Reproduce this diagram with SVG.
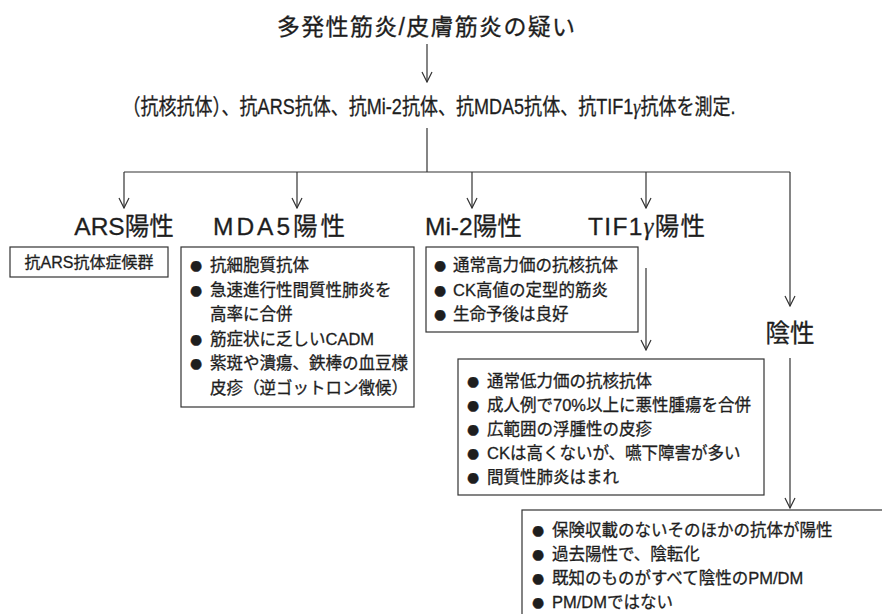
<svg xmlns="http://www.w3.org/2000/svg" width="882" height="614" viewBox="0 0 882 614">
<defs>
<marker id="arr" viewBox="0 0 12 12" refX="11" refY="6" markerWidth="12" markerHeight="12" markerUnits="userSpaceOnUse" orient="auto">
<path d="M1,1 L11,6 L1,11" fill="none" stroke="#333" stroke-width="1.2"/>
</marker>
<style>
text{font-family:"Liberation Sans","Noto Sans CJK JP",sans-serif;fill:#1e1e1e;stroke:#1e1e1e;stroke-width:0.3}
.h1{font-size:23px}
.h2{font-size:22px}
.lab{font-size:24.5px}
.b{font-size:16.5px}
.bul{font-size:14px;font-family:"DejaVu Sans",sans-serif}
.g{font-family:"Liberation Serif",serif;font-style:italic}
.box{fill:#fff;stroke:#333;stroke-width:1.2}
.ln{fill:none;stroke:#333;stroke-width:1.2}
.la{fill:none;stroke:#333;stroke-width:1.2;marker-end:url(#arr)}
</style>
</defs>
<rect width="882" height="614" fill="#fff"/>
<g id="connectors">
<line class="la" x1="427" y1="44" x2="427" y2="82"/>
<line class="ln" x1="427" y1="128" x2="427" y2="172"/>
<line class="ln" x1="124" y1="172" x2="790" y2="172"/>
<line class="la" x1="124" y1="172" x2="124" y2="208"/>
<line class="la" x1="297" y1="172" x2="297" y2="208"/>
<line class="la" x1="472" y1="172" x2="472" y2="208"/>
<line class="la" x1="646" y1="172" x2="646" y2="208"/>
<line class="la" x1="790" y1="172" x2="790" y2="306"/>
<line class="la" x1="646" y1="268" x2="646" y2="350"/>
<line class="la" x1="790" y1="358" x2="790" y2="508"/>
</g>
<g id="title">
<text class="h1" x="277" y="35" textLength="298" lengthAdjust="spacing">多発性筋炎/皮膚筋炎の疑い</text>
</g>
<g id="measure">
<text class="h2" transform="translate(429,114) scale(0.82,1)" text-anchor="middle">（抗核抗体）、抗ARS抗体、抗Mi-2抗体、抗MDA5抗体、抗TIF1<tspan class="g">γ</tspan>抗体を測定.</text>
</g>
<g id="ars">
<text class="lab" x="124" y="235" text-anchor="middle">ARS陽性</text>
<rect class="box" x="10" y="247" width="158" height="30"/>
<text x="89" y="268" style="font-size:16px" text-anchor="middle">抗ARS抗体症候群</text>
</g>
<g id="mda5">
<text class="lab" x="213" y="235" textLength="132" lengthAdjust="spacing">MDA5陽性</text>
<rect class="box" x="181" y="247" width="233" height="160"/>
<text class="bul" x="196" y="270" text-anchor="middle">●</text>
<text class="b" x="210" y="271">抗細胞質抗体</text>
<text class="bul" x="196" y="294.5" text-anchor="middle">●</text>
<text class="b" x="210" y="295.5">急速進行性間質性肺炎を</text>
<text class="b" x="210" y="320">高率に合併</text>
<text class="bul" x="196" y="343.5" text-anchor="middle">●</text>
<text class="b" x="210" y="344.5">筋症状に乏しいCADM</text>
<text class="bul" x="196" y="368" text-anchor="middle">●</text>
<text class="b" x="210" y="369">紫斑や潰瘍、鉄棒の血豆様</text>
<text class="b" x="210" y="393.5">皮疹（逆ゴットロン徴候）</text>
</g>
<g id="mi2">
<text class="lab" x="425" y="235">Mi-2陽性</text>
<rect class="box" x="426" y="247" width="212" height="85"/>
<text class="bul" x="440" y="270" text-anchor="middle">●</text>
<text class="b" x="453" y="271">通常高力価の抗核抗体</text>
<text class="bul" x="440" y="295" text-anchor="middle">●</text>
<text class="b" x="453" y="296">CK高値の定型的筋炎</text>
<text class="bul" x="440" y="319" text-anchor="middle">●</text>
<text class="b" x="453" y="320">生命予後は良好</text>
</g>
<g id="tif1g">
<text class="lab" x="588" y="235" textLength="117" lengthAdjust="spacing">TIF1<tspan class="g">γ</tspan>陽性</text>
<rect class="box" x="458" y="359" width="306" height="136"/>
<text class="bul" x="473" y="386" text-anchor="middle">●</text>
<text class="b" x="487" y="387">通常低力価の抗核抗体</text>
<text class="bul" x="473" y="410" text-anchor="middle">●</text>
<text class="b" x="487" y="411">成人例で70%以上に悪性腫瘍を合併</text>
<text class="bul" x="473" y="434" text-anchor="middle">●</text>
<text class="b" x="487" y="435">広範囲の浮腫性の皮疹</text>
<text class="bul" x="473" y="458" text-anchor="middle">●</text>
<text class="b" x="487" y="459">CKは高くないが、嚥下障害が多い</text>
<text class="bul" x="473" y="482" text-anchor="middle">●</text>
<text class="b" x="487" y="483">間質性肺炎はまれ</text>
</g>
<g id="negative">
<text class="lab" x="790" y="342" text-anchor="middle">陰性</text>
<rect class="box" x="522" y="510" width="400" height="200"/>
<text class="bul" x="538" y="535" text-anchor="middle">●</text>
<text class="b" x="552" y="536">保険収載のないそのほかの抗体が陽性</text>
<text class="bul" x="538" y="559" text-anchor="middle">●</text>
<text class="b" x="552" y="560">過去陽性で、陰転化</text>
<text class="bul" x="538" y="583" text-anchor="middle">●</text>
<text class="b" x="552" y="584">既知のものがすべて陰性のPM/DM</text>
<text class="bul" x="538" y="607" text-anchor="middle">●</text>
<text class="b" x="552" y="608">PM/DMではない</text>
</g>
</svg>
